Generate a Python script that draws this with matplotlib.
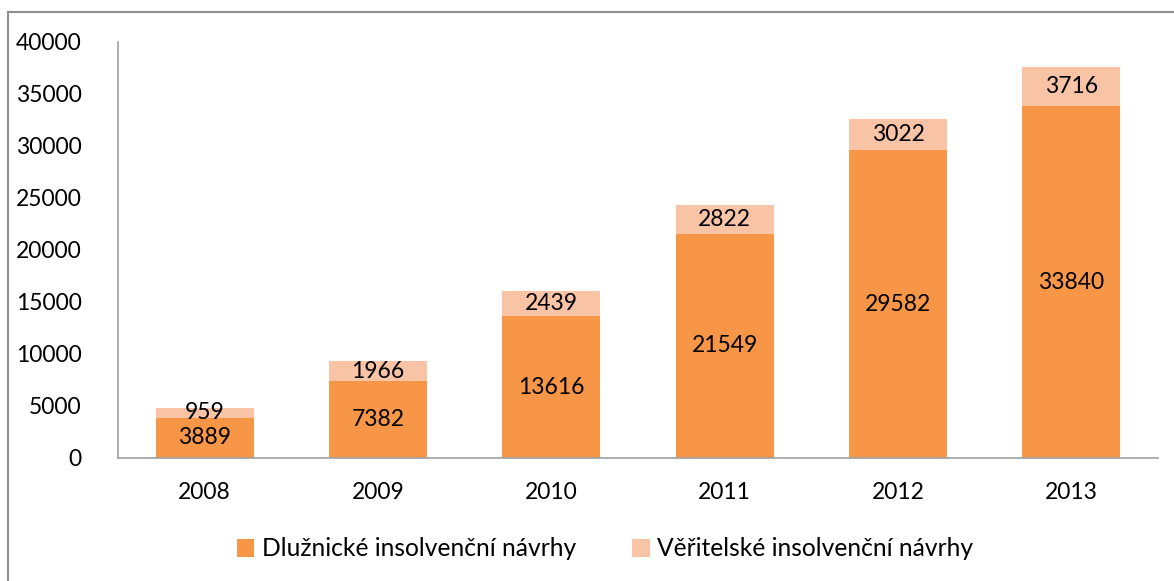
import matplotlib
matplotlib.use("Agg")
import matplotlib.pyplot as plt
from matplotlib.lines import Line2D

years = ["2008", "2009", "2010", "2011", "2012", "2013"]
dluznicke = [3889, 7382, 13616, 21549, 29582, 33840]
veritelske = [959, 1966, 2439, 2822, 3022, 3716]
series_names = ["Dlužnické insolvenční návrhy", "Věřitelské insolvenční návrhy"]
yticks = [0, 5000, 10000, 15000, 20000, 25000, 30000, 35000, 40000]

plt.rcParams['font.family'] = ['Lato', 'DejaVu Sans']

W, H = 1174, 581
fig = plt.figure(figsize=(W / 100, H / 100), dpi=100)
ax = fig.add_axes([118 / W, 1 - 458 / H, (1158 - 118) / W, (458 - 42) / H])

FS = 16.5
c1 = "#F79646"
c2 = "#F9C3A6"
x = list(range(len(years)))
b1 = ax.bar(x, dluznicke, width=0.565, color=c1, label=series_names[0])
b2 = ax.bar(x, veritelske, width=0.565, bottom=dluznicke, color=c2, label=series_names[1])

for i in x:
    ax.text(i, dluznicke[i] / 2, str(dluznicke[i]), ha="center", va="center", fontsize=FS, color="black")
    ax.text(i, dluznicke[i] + veritelske[i] / 2, str(veritelske[i]), ha="center", va="center", fontsize=FS, color="black")

ax.set_xlim(-0.5, len(years) - 0.5)
ax.set_ylim(0, 40000)
ax.set_yticks(yticks)
ax.set_yticklabels([str(v) for v in yticks], fontsize=FS)
ax.set_xticks(x)
ax.set_xticklabels(years, fontsize=FS)
ax.tick_params(axis="both", length=0)
ax.tick_params(axis="y", pad=26)
ax.tick_params(axis="x", pad=17)
for s in ["top", "right"]:
    ax.spines[s].set_visible(False)
for s in ["left", "bottom"]:
    ax.spines[s].set_color("#A0A0A0")
    ax.spines[s].set_linewidth(1.2)

fig.legend(handles=[b1, b2], labels=series_names, loc="center", bbox_to_anchor=(605 / W, 1 - 549 / H),
           ncol=2, frameon=False, fontsize=17.7, handlelength=0.7, handleheight=0.7,
           handletextpad=0.3, columnspacing=2.3)

# outer border (top and left visible)
fig.add_artist(Line2D([8 / W, 8 / W], [0, 1 - 12 / H], transform=fig.transFigure, color="#909090", lw=1.5))
fig.add_artist(Line2D([8 / W, 1], [1 - 12 / H, 1 - 12 / H], transform=fig.transFigure, color="#909090", lw=1.5))

fig.savefig("out.png", dpi=100)
